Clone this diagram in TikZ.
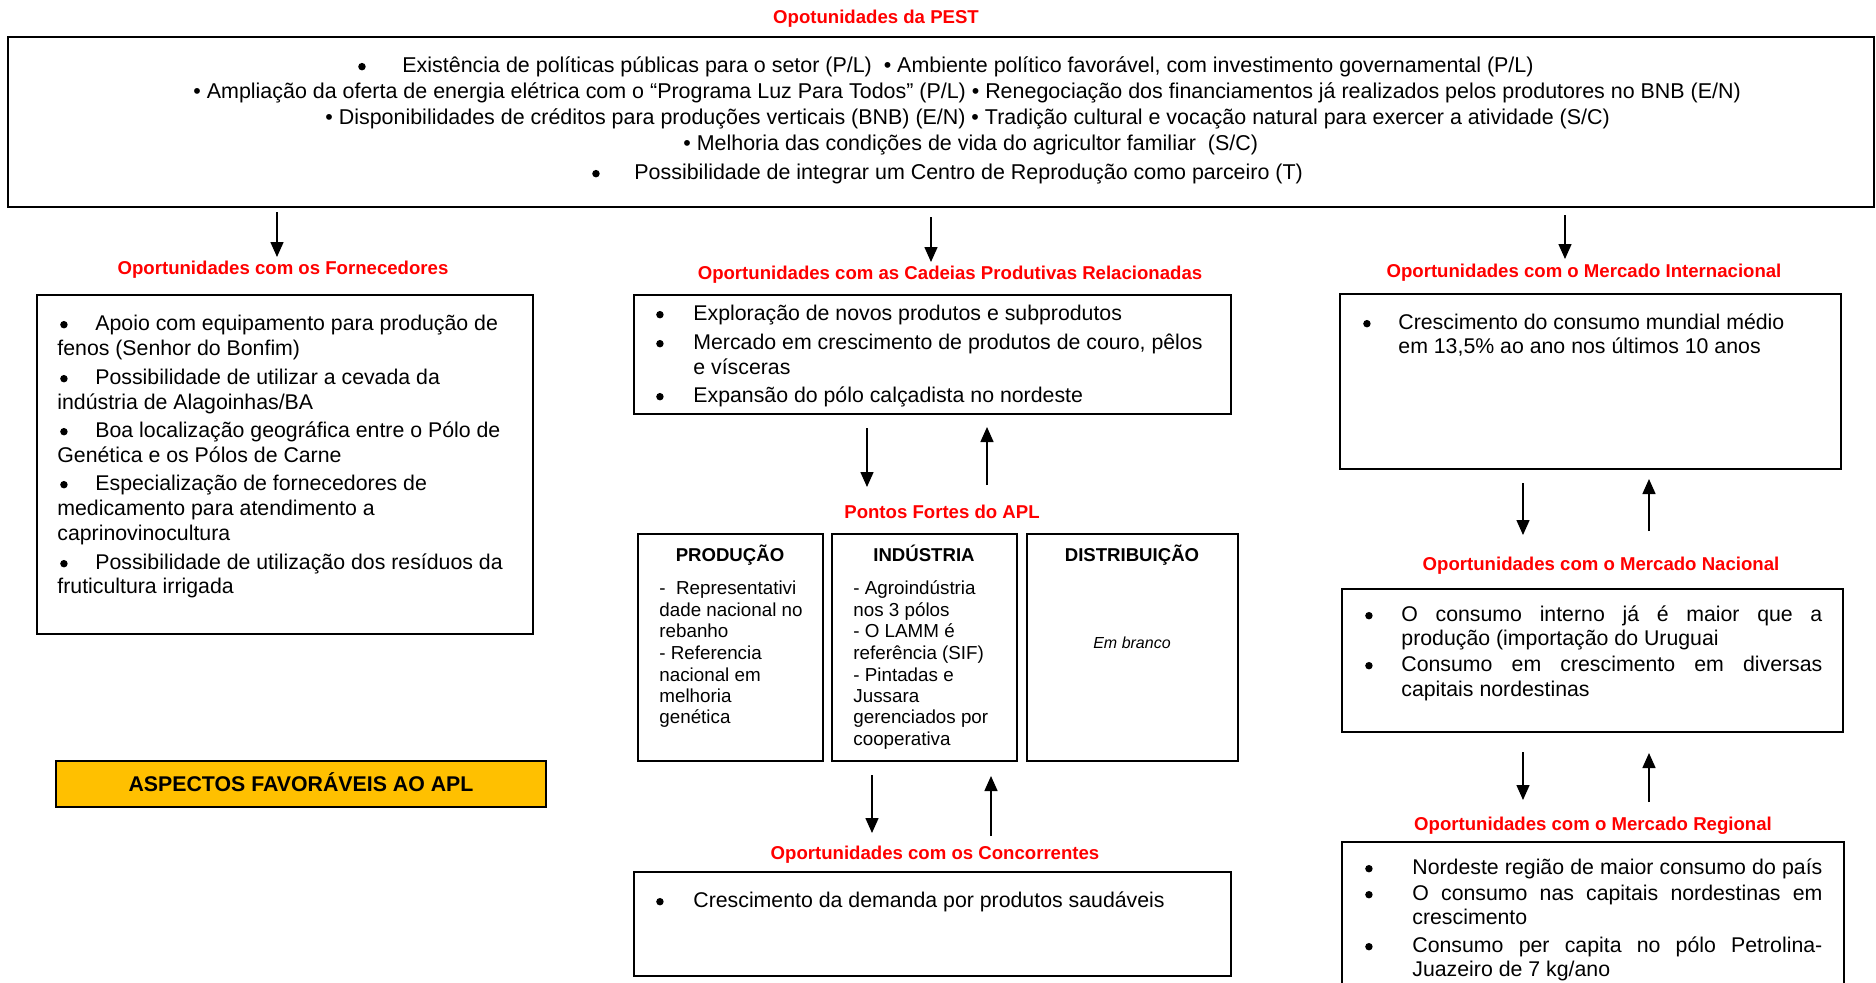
\documentclass[tikz,border=0pt]{standalone}
\usepackage{fontspec}
\setmainfont{Liberation Sans}
\usetikzlibrary{arrows.meta,fit}
\definecolor{aplfill}{HTML}{FFC000}
\newcommand\mybul[1]{\makebox[#1][l]{\tikz[baseline=0pt]{\path (0,0) rectangle (0.5em,0.5em);\fill[black] (0.26em,0.25em) circle (0.175em);}}}
\begin{document}
\begin{tikzpicture}[x=0.5pt,y=-0.5pt,
  box/.style={draw=black,line width=1pt,inner sep=0pt},
  ttl/.style={font=\bfseries\fontsize{9.3}{11}\selectfont,text=red,anchor=base,inner sep=0pt},
  tx/.style={font=\fontsize{10.65}{12}\selectfont,anchor=base west,inner sep=0pt},
  ptx/.style={font=\fontsize{10.72}{12}\selectfont,anchor=base west,inner sep=0pt},
  sm/.style={font=\fontsize{9.4}{11}\selectfont,anchor=base west,inner sep=0pt},
  hd/.style={font=\bfseries\fontsize{9.3}{11}\selectfont,anchor=base,inner sep=0pt},
  arr/.style={line width=0.75pt,-{Triangle[length=7.5pt,width=6.5pt]}}]
\useasboundingbox (0,0) rectangle (1876,982);
\fill[white] (0,0) rectangle (1876,982);
\clip (0,0) rectangle (1876,982);

% ---------- PEST ----------
\node[ttl] (tpest) at (876,23) {Opotunidades da PEST};
\node[box,fit={(8,37) (1874,207)}] (pest) {};
\node[ptx] (p1) at (356,72) {\mybul{23pt}Existência de políticas públicas para o setor (P/L)\ \ • Ambiente político favorável, com investimento governamental (P/L)};
\node[ptx] (p2) at (193,98) {• Ampliação da oferta de energia elétrica com o “Programa Luz Para Todos” (P/L) • Renegociação dos financiamentos já realizados pelos produtores no BNB (E/N)};
\node[ptx] (p3) at (325,124) {• Disponibilidades de créditos para produções verticais (BNB) (E/N) • Tradição cultural e vocação natural para exercer a atividade (S/C)};
\node[ptx] (p4) at (683,150) {• Melhoria das condições de vida do agricultor familiar\ \ (S/C)};
\node[ptx] (p5) at (590,179) {\mybul{22pt}Possibilidade de integrar um Centro de Reprodução como parceiro (T)};

% ---------- Fornecedores ----------
\node[ttl] (tforn) at (283,274) {Oportunidades com os Fornecedores};
\node[box,fit={(37,295) (533,634)}] (forn) {};
\node[tx] (f1) at (58,330) {\mybul{18.5pt}Apoio com equipamento para produção de};
\node[tx] (f2) at (57,355) {fenos (Senhor do Bonfim)};
\node[tx] (f3) at (58,384) {\mybul{18.5pt}Possibilidade de utilizar a cevada da};
\node[tx] (f4) at (57,409) {indústria de Alagoinhas/BA};
\node[tx] (f5) at (58,437) {\mybul{18.5pt}Boa localização geográfica entre o Pólo de};
\node[tx] (f6) at (57,462) {Genética e os Pólos de Carne};
\node[tx] (f7) at (58,490) {\mybul{18.5pt}Especialização de fornecedores de};
\node[tx] (f8) at (57,515) {medicamento para atendimento a};
\node[tx] (f9) at (57,540) {caprinovinocultura};
\node[tx] (f10) at (58,569) {\mybul{18.5pt}Possibilidade de utilização dos resíduos da};
\node[tx] (f11) at (57,593) {fruticultura irrigada};

% ---------- Aspectos ----------
\node[box,fill=aplfill,fit={(56,761) (546,807)}] (aspect) {};
\node[font=\bfseries\fontsize{10.65}{12}\selectfont,anchor=base,inner sep=0pt] (taspect) at (301,791) {ASPECTOS FAVORÁVEIS AO APL};

% ---------- Cadeias ----------
\node[ttl] (tcad) at (950,279) {Oportunidades com as Cadeias Produtivas Relacionadas};
\node[box,fit={(634,295) (1231,414)}] (cad) {};
\node[tx] (c1) at (654,320) {\mybul{19.5pt}Exploração de novos produtos e subprodutos};
\node[tx] (c2) at (654,349) {\mybul{19.5pt}Mercado em crescimento de produtos de couro, pêlos};
\node[tx] (c3) at (693,374) {e vísceras};
\node[tx] (c4) at (654,402) {\mybul{19.5pt}Expansão do pólo calçadista no nordeste};

% ---------- Pontos Fortes ----------
\node[ttl] (tpf) at (942,518) {Pontos Fortes do APL};
\node[box,fit={(638,534) (823,761)}] (prod) {};
\node[box,fit={(832,534) (1017,761)}] (ind) {};
\node[box,fit={(1027,534) (1238,761)}] (dist) {};
\node[hd] (hprod) at (730,561) {PRODUÇÃO};
\node[hd] (hind) at (924,561) {INDÚSTRIA};
\node[hd] (hdist) at (1132,561) {DISTRIBUIÇÃO};
\node[sm] (r1) at (659,594) {-\ \ Representativi};
\node[sm] (r2) at (659,616.5) {dade nacional no};
\node[sm] (r3) at (659,637) {rebanho};
\node[sm] (r4) at (659,659) {- Referencia};
\node[sm] (r5) at (659,681.5) {nacional em};
\node[sm] (r6) at (659,702) {melhoria};
\node[sm] (r7) at (659,723) {genética};
\node[sm] (i1) at (853,594) {- Agroindústria};
\node[sm] (i2) at (853,616.5) {nos 3 pólos};
\node[sm] (i3) at (853,637) {- O LAMM é};
\node[sm] (i4) at (853,659) {referência (SIF)};
\node[sm] (i5) at (853,681.5) {- Pintadas e};
\node[sm] (i6) at (853,702) {Jussara};
\node[sm] (i7) at (853,723) {gerenciados por};
\node[sm] (i8) at (853,745.5) {cooperativa};
\node[font=\itshape\fontsize{8}{10}\selectfont,anchor=base,inner sep=0pt] (emb) at (1132,648) {Em branco};

% ---------- Concorrentes ----------
\node[ttl] (tcon) at (935,859) {Oportunidades com os Concorrentes};
\node[box,fit={(634,872) (1231,976)}] (con) {};
\node[tx] (k1) at (654,907) {\mybul{19.5pt}Crescimento da demanda por produtos saudáveis};

% ---------- Internacional ----------
\node[ttl] (tint) at (1584,277) {Oportunidades com o Mercado Internacional};
\node[box,fit={(1340,294) (1841,469)}] (inter) {};
\node[tx] (n1) at (1361,329) {\mybul{18.5pt}Crescimento do consumo mundial médio};
\node[tx] (n2) at (1398,353) {em 13,5\% ao ano nos últimos 10 anos};

% ---------- Nacional ----------
\node[ttl] (tnac) at (1601,570) {Oportunidades com o Mercado Nacional};
\node[box,fit={(1342,589) (1843,732)}] (nac) {};
\node[tx] (m1) at (1363,621) {\mybul{19pt}\makebox[210.5pt][s]{O consumo interno já é maior que a}};
\node[tx] (m2) at (1401,645) {produção (importação do Uruguai};
\node[tx] (m3) at (1363,671) {\mybul{19pt}\makebox[210.5pt][s]{Consumo em crescimento em diversas}};
\node[tx] (m4) at (1401,696) {capitais nordestinas};

% ---------- Regional ----------
\node[ttl] (treg) at (1593,830) {Oportunidades com o Mercado Regional};
\node[box,fit={(1342,842) (1844,1010)}] (reg) {};
\node[tx] (g1) at (1363,874) {\mybul{24.5pt}\makebox[205pt][s]{Nordeste região de maior consumo do país}};
\node[tx] (g2) at (1363,900) {\mybul{24.5pt}\makebox[205pt][s]{O consumo nas capitais nordestinas em}};
\node[tx] (g3) at (1412,924) {crescimento};
\node[tx] (g4) at (1363,952) {\mybul{24.5pt}\makebox[205pt][s]{Consumo per capita no pólo Petrolina-}};
\node[tx] (g5) at (1412,976) {Juazeiro de 7 kg/ano};

% ---------- Arrows ----------
\coordinate (a1s) at (277,212); \coordinate (a1e) at (277,257);
\coordinate (a2s) at (931,217); \coordinate (a2e) at (931,262);
\coordinate (a3s) at (1565,215); \coordinate (a3e) at (1565,259);
\coordinate (a4s) at (867,428); \coordinate (a4e) at (867,487);
\coordinate (a5s) at (987,485); \coordinate (a5e) at (987,427);
\coordinate (a6s) at (872,775); \coordinate (a6e) at (872,833);
\coordinate (a7s) at (991,836); \coordinate (a7e) at (991,776);
\coordinate (a8s) at (1523,483); \coordinate (a8e) at (1523,535);
\coordinate (a9s) at (1649,531); \coordinate (a9e) at (1649,479);
\coordinate (a10s) at (1523,752); \coordinate (a10e) at (1523,800);
\coordinate (a11s) at (1649,802); \coordinate (a11e) at (1649,753);
\foreach \k in {1,...,11} {\draw[arr] (a\k s) -- (a\k e);}
\end{tikzpicture}
\end{document}
